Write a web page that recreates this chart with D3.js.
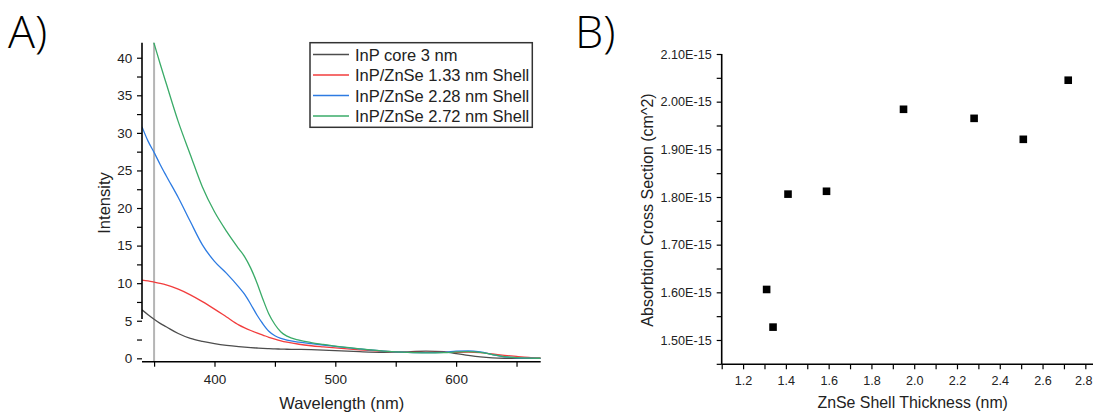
<!DOCTYPE html>
<html>
<head>
<meta charset="utf-8">
<script src="https://cdn.jsdelivr.net/npm/d3@7"></script>
<style>
  body { margin: 0; background: #fff; }
  svg { display: block; font-family: "Liberation Sans", Arial, sans-serif; }
  .panel-label { font-family: "Open Sans", "Noto Sans", sans-serif; font-weight: 300; }
</style>
</head>
<body>
<div id="chart"></div>
<script>
// ---- data: panel A (absorption spectra) ----
const wavelengths = [340, 345, 350, 355, 360, 370, 380, 390, 400, 410, 420, 425, 430, 435, 440, 445, 450, 455, 460,
                     470, 480, 490, 500, 520, 540, 560, 575, 590, 600, 610, 620, 630, 640, 650, 660, 670];
const seriesNames = ["InP core 3 nm", "InP/ZnSe 1.33 nm Shell", "InP/ZnSe 2.28 nm Shell", "InP/ZnSe 2.72 nm Shell"];
const seriesColors = ["#4d4d4d", "#f23d3d", "#2d7be2", "#3aab68"];
const coreVals = [6.45, 5.8, 5.2, 4.65, 4.2, 3.3, 2.65, 2.25, 1.95, 1.72, 1.55, 1.48, 1.42, 1.37, 1.32, 1.28, 1.25, 1.23, 1.21,
                  1.19, 1.16, 1.1, 1.02, 0.88, 0.8, 0.85, 0.97, 0.88, 0.62, 0.38, 0.18, 0.06, 0.01, 0, 0, 0];
const shell133Vals = [10.4, 10.3, 10.15, 9.98, 9.78, 9.2, 8.45, 7.55, 6.55, 5.5, 4.45, 4.05, 3.7, 3.38, 3.1, 2.8, 2.55, 2.33, 2.15,
                      1.87, 1.67, 1.52, 1.38, 1.12, 0.92, 0.8, 0.78, 0.78, 0.8, 0.82, 0.75, 0.58, 0.4, 0.25, 0.12, 0.04];
const shell228Vals = [30.8, 28.9, 27.4, 25.8, 24.3, 21.4, 18.2, 15.1, 12.9, 11.3, 9.5, 8.5, 7.2, 5.8, 4.6, 3.6, 3.0, 2.65, 2.42,
                      2.15, 1.95, 1.77, 1.6, 1.25, 0.97, 0.8, 0.75, 0.8, 0.95, 1.0, 0.85, 0.5, 0.2, 0.07, 0.02, 0];
const shell272Vals = [47.2, 44.5, 41.9, 39.2, 36.6, 31.5, 27.1, 22.8, 19.5, 16.9, 14.6, 13.5, 12.0, 10.1, 7.9, 5.9, 4.5, 3.5, 2.95,
                      2.42, 2.1, 1.85, 1.62, 1.27, 0.97, 0.78, 0.72, 0.75, 0.85, 0.9, 0.8, 0.5, 0.22, 0.08, 0.03, 0.01];
const markerWavelength = 350;
const aXTicks = [350, 400, 450, 500, 550, 600, 650];
const aXLabels = [400, 500, 600];
const aYTicks = d3.range(0, 42, 2.5);
const aYLabels = [0, 5, 10, 15, 20, 25, 30, 35, 40];

// ---- data: panel B (cross section vs shell thickness) ----
const thickness = [1.31, 1.34, 1.41, 1.59, 1.95, 2.28, 2.51, 2.72];
const crossSection = [1.606e-15, 1.527e-15, 1.806e-15, 1.812e-15, 1.984e-15, 1.965e-15, 1.921e-15, 2.045e-15];
const bXTicks = d3.range(11, 29).map(d => d / 10);
const bXLabels = [1.2, 1.4, 1.6, 1.8, 2.0, 2.2, 2.4, 2.6, 2.8];
const bYTicks = d3.range(29, 43).map(d => d * 0.05e-15);
const bYLabels = [1.5e-15, 1.6e-15, 1.7e-15, 1.8e-15, 1.9e-15, 2.0e-15, 2.1e-15];

const W = 1093, H = 413;
const svg = d3.select("#chart").append("svg").attr("width", W).attr("height", H);

// panel labels
svg.append("text").attr("class", "panel-label").attr("x", 8).attr("y", 48).attr("font-size", 45).text("A)");
svg.append("text").attr("class", "panel-label").attr("x", 575).attr("y", 48).attr("font-size", 45).text("B)");

// ================= Panel A =================
const ax = d3.scaleLinear().domain([340, 670]).range([142, 540.7]);
const ay = d3.scaleLinear().domain([-0.45, 42]).range([361.7, 42.7]);

svg.append("clipPath").attr("id", "clipA")
  .append("rect").attr("x", 142).attr("y", 42.7).attr("width", 540.7 - 142).attr("height", 361.7 - 42.7);

// vertical marker line
svg.append("line")
  .attr("x1", ax(markerWavelength)).attr("x2", ax(markerWavelength))
  .attr("y1", 42.7).attr("y2", 361.7)
  .attr("stroke", "#b5b5b5").attr("stroke-width", 2);

const seriesVals = [coreVals, shell133Vals, shell228Vals, shell272Vals];
const line = d3.line().x(d => ax(d[0])).y(d => ay(d[1])).curve(d3.curveMonotoneX);
const plotA = svg.append("g").attr("clip-path", "url(#clipA)");
seriesVals.forEach((vals, i) => {
  plotA.append("path")
    .datum(wavelengths.map((w, j) => [w, vals[j]]))
    .attr("fill", "none")
    .attr("stroke", seriesColors[i])
    .attr("stroke-width", 1.3)
    .attr("d", line);
});

// axes A
const axA = svg.append("g").attr("transform", "translate(0,361.7)")
  .call(d3.axisBottom(ax).tickValues(aXTicks).tickSize(5).tickPadding(8.2)
    .tickFormat(d => aXLabels.includes(d) ? d : ""));
const ayA = svg.append("g").attr("transform", "translate(142,0)")
  .call(d3.axisLeft(ay).tickValues(aYTicks).tickSize(5).tickPadding(4.7)
    .tickFormat(d => aYLabels.includes(d) ? d : ""));
[axA, ayA].forEach(g => {
  g.select(".domain").attr("stroke", "#000").attr("stroke-width", 1.6);
  g.selectAll(".tick line").attr("stroke", "#000").attr("stroke-width", 1.2);
  g.selectAll("text").attr("font-size", 13.5).attr("fill", "#222")
    .attr("font-family", "'Liberation Sans', Arial, sans-serif");
});
axA.select(".domain").attr("d", "M142,0H540.7");
ayA.select(".domain").attr("d", "M0,42.7V319");

svg.append("text").attr("x", 341.7).attr("y", 408.5).attr("text-anchor", "middle")
  .attr("font-size", 16.5).attr("fill", "#222").text("Wavelength (nm)");
svg.append("text").attr("transform", "translate(110,203) rotate(-90)").attr("text-anchor", "middle")
  .attr("font-size", 16.5).attr("fill", "#222").text("Intensity");

// legend
const leg = svg.append("g");
leg.append("rect").attr("x", 310).attr("y", 42.7).attr("width", 222.3).attr("height", 84.6)
  .attr("fill", "#fff").attr("stroke", "#333").attr("stroke-width", 1.5);
seriesNames.forEach((name, i) => {
  const cy = 54.5 + i * 20.5;
  leg.append("line").attr("x1", 313).attr("x2", 349).attr("y1", cy).attr("y2", cy)
    .attr("stroke", seriesColors[i]).attr("stroke-width", 1.5);
  leg.append("text").attr("x", 355).attr("y", cy + 6).attr("font-size", 16.5).attr("fill", "#222").text(name);
});

// ================= Panel B =================
const bx = d3.scaleLinear().domain([1.1, 2.85]).range([721.7, 721.7 + 1.75 * 213.9]);
const by = d3.scaleLinear().domain([1.449e-15, 2.10e-15]).range([364.3, 54]);

const axB = svg.append("g").attr("transform", "translate(0,364.3)")
  .call(d3.axisBottom(bx).tickValues(bXTicks).tickSize(5).tickPadding(6.6)
    .tickFormat(d => bXLabels.some(v => Math.abs(v - d) < 1e-9) ? d.toFixed(1) : ""));
const ayB = svg.append("g").attr("transform", "translate(721.7,0)")
  .call(d3.axisLeft(by).tickValues(bYTicks).tickSize(5).tickPadding(5)
    .tickFormat(d => bYLabels.some(v => Math.abs(v - d) < 1e-20) ? (d / 1e-15).toFixed(2) + "E-15" : ""));
[axB, ayB].forEach(g => {
  g.select(".domain").attr("stroke", "#000").attr("stroke-width", 1.6);
  g.selectAll(".tick line").attr("stroke", "#000").attr("stroke-width", 1.2);
  g.selectAll("text").attr("font-size", 12.6).attr("fill", "#222")
    .attr("font-family", "'Liberation Sans', Arial, sans-serif");
});
axB.select(".domain").attr("d", "M721.7,0H1097");
ayB.select(".domain").attr("d", "M0,54V364.3");
// keep the last tick label inside the picture
axB.selectAll(".tick text").filter(d => Math.abs(d - 2.8) < 1e-9).attr("dx", -2);

svg.selectAll(".pt").data(thickness).enter().append("rect")
  .attr("class", "pt")
  .attr("x", (d, i) => bx(d) - 3.8)
  .attr("y", (d, i) => by(crossSection[i]) - 3.8)
  .attr("width", 7.6).attr("height", 7.6)
  .attr("fill", "#000");

svg.append("text").attr("x", 912.7).attr("y", 408).attr("text-anchor", "middle")
  .attr("font-size", 15.9).attr("fill", "#222").text("ZnSe Shell Thickness (nm)");
svg.append("text").attr("transform", "translate(653,210) rotate(-90)").attr("text-anchor", "middle")
  .attr("font-size", 16).attr("fill", "#222").text("Absorbtion Cross Section (cm^2)");
</script>
</body>
</html>
